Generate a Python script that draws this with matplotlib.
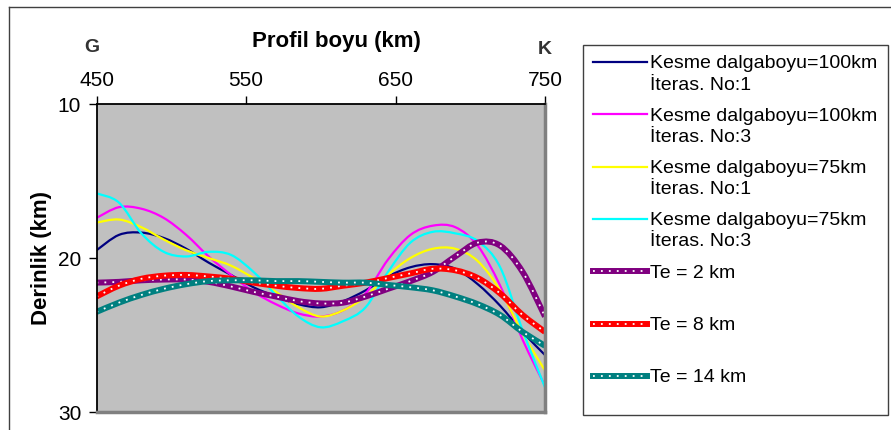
import matplotlib
matplotlib.use("Agg")
from matplotlib import pyplot as plt
from matplotlib.lines import Line2D
from matplotlib.path import Path
from matplotlib.patches import PathPatch

plt.rcParams['font.family'] = ['Liberation Sans', 'DejaVu Sans']

# profile distance (km) and depth (km)
profil = [450, 465, 480, 495, 510, 525, 540, 555, 570, 585, 600,
          615, 630, 645, 660, 675, 690, 705, 720, 735, 750]

kd100_it1 = [19.5, 18.5, 18.35, 18.7, 19.4, 20.3, 21.1, 21.9, 22.5, 23.0, 23.2,
             22.8, 22.1, 21.2, 20.6, 20.4, 20.7, 21.7, 23.1, 24.8, 26.3]
kd100_it3 = [17.4, 16.7, 16.8, 17.4, 18.5, 19.9, 21.1, 22.2, 23.0, 23.6, 23.8,
             23.4, 22.3, 20.1, 18.5, 17.9, 18.0, 19.2, 21.8, 25.3, 28.3]
kd75_it1 = [17.7, 17.5, 18.0, 18.8, 19.5, 20.0, 20.5, 21.3, 22.2, 23.2, 23.8,
            23.4, 22.5, 21.1, 20.0, 19.4, 19.4, 20.2, 22.1, 24.9, 27.3]
kd75_it3 = [15.8, 16.4, 18.4, 19.6, 19.9, 19.6, 19.8, 20.9, 22.4, 23.8, 24.5,
            24.1, 23.2, 20.9, 19.0, 18.3, 18.4, 18.9, 20.6, 24.7, 28.4]
te2 = [21.6, 21.55, 21.45, 21.4, 21.4, 21.55, 21.85, 22.2, 22.5, 22.8, 22.95,
       22.9, 22.5, 22.0, 21.5, 20.9, 19.9, 19.0, 19.2, 20.9, 23.8]
te8 = [22.5, 21.8, 21.35, 21.15, 21.1, 21.2, 21.35, 21.6, 21.8, 21.95, 22.0,
       21.8, 21.6, 21.3, 21.0, 20.7, 20.8, 21.3, 22.3, 23.7, 24.8]
te14 = [23.5, 22.9, 22.4, 22.0, 21.7, 21.5, 21.45, 21.45, 21.5, 21.5, 21.55,
        21.6, 21.6, 21.75, 21.9, 22.1, 22.5, 23.0, 23.7, 24.8, 25.7]

labels = ["Kesme dalgaboyu=100km\nİteras. No:1",
          "Kesme dalgaboyu=100km\nİteras. No:3",
          "Kesme dalgaboyu=75km\nİteras. No:1",
          "Kesme dalgaboyu=75km\nİteras. No:3",
          "Te = 2 km", "Te = 8 km", "Te = 14 km"]
xticks = [450, 550, 650, 750]
yticks = [10, 20, 30]

W, H = 891, 430
fig = plt.figure(figsize=(W / 100, H / 100), dpi=100)


def fx(px):
    return px / W


def fy(py):
    return 1 - py / H


def smooth_path(xs, ys):
    # Excel-style smoothed line: a Bezier segment between each pair of points
    pts = list(zip(xs, ys))
    n = len(pts)
    verts = [pts[0]]
    codes = [Path.MOVETO]
    for i in range(n - 1):
        p0 = pts[i - 1] if i > 0 else pts[i]
        p1 = pts[i]
        p2 = pts[i + 1]
        p3 = pts[i + 2] if i + 2 < n else pts[i + 1]
        c1 = (p1[0] + (p2[0] - p0[0]) / 6, p1[1] + (p2[1] - p0[1]) / 6)
        c2 = (p2[0] - (p3[0] - p1[0]) / 6, p2[1] - (p3[1] - p1[1]) / 6)
        verts += [c1, c2, p2]
        codes += [Path.CURVE4] * 3
    return Path(verts, codes)


ax = fig.add_axes([fx(96.5), fy(412), (545 - 96.5) / W, (412 - 104) / H])
ax.set_facecolor('#c0c0c0')

thin = [(kd100_it1, '#000080'), (kd100_it3, '#ff00ff'),
        (kd75_it1, '#ffff00'), (kd75_it3, '#00ffff')]
thick = [(te2, '#800080'), (te8, '#ff0000'), (te14, '#008080')]
TE_LW = 4.3

for ys, c in thin:
    ax.add_patch(PathPatch(smooth_path(profil, ys), fill=False, edgecolor=c,
                           lw=1.6, capstyle='butt'))
for ys, c in thick:
    pth = smooth_path(profil, ys)
    ax.add_patch(PathPatch(pth, fill=False, edgecolor=c, lw=TE_LW,
                           capstyle='butt'))
    ax.add_patch(PathPatch(pth, fill=False, edgecolor='white', lw=1.3,
                           linestyle=(0, (1, 3.4)), capstyle='butt'))

ax.set_xlim(450, 750)
ax.set_ylim(30, 10)
ax.xaxis.tick_top()
ax.set_xticks(xticks)
ax.set_yticks(yticks)
ax.tick_params(axis='both', labelsize=15, length=6, width=1, color='black')
ax.tick_params(axis='x', pad=4)
ax.tick_params(axis='y', pad=5)

for s in ['left', 'top']:
    ax.spines[s].set_color('black')
    ax.spines[s].set_linewidth(1.3)
for s in ['right', 'bottom']:
    ax.spines[s].set_color('#808080')
    ax.spines[s].set_linewidth(2.5)

fig.text(fx(336), fy(42), "Profil boyu (km)", ha='center', va='center',
         fontsize=16, fontweight='bold')
fig.text(fx(42), fy(258), "Derinlik (km)", ha='center', va='center',
         fontsize=16, fontweight='bold', rotation=90)
fig.text(fx(92), fy(47), "G", ha='center', va='center', fontsize=14,
         fontweight='bold', color='#333333')
fig.text(fx(545), fy(50), "K", ha='center', va='center', fontsize=14,
         fontweight='bold', color='#333333')

# outer chart frame (only left and top are inside the picture)
fig.add_artist(Line2D([fx(9), fx(9)], [fy(7), 0], transform=fig.transFigure,
                      color='#404040', lw=1))
fig.add_artist(Line2D([fx(9), 1], [fy(7), fy(7)], transform=fig.transFigure,
                      color='#404040', lw=1))

# legend box drawn by hand so the handle sits on the first text line
fig.add_artist(plt.Rectangle((fx(583), fy(415)), (888 - 583) / W, (415 - 45) / H,
                             transform=fig.transFigure, fill=False,
                             edgecolor='#404040', lw=1))
styles = thin + thick
for i, (lab, (ys, c)) in enumerate(zip(labels, styles)):
    yy = 62 + i * 52.3
    if i < 4:
        fig.add_artist(Line2D([fx(593), fx(647)], [fy(yy), fy(yy)],
                              transform=fig.transFigure, color=c, lw=1.6))
    else:
        fig.add_artist(Line2D([fx(593), fx(647)], [fy(yy), fy(yy)],
                              transform=fig.transFigure, color=c, lw=TE_LW))
        fig.add_artist(Line2D([fx(593), fx(647)], [fy(yy), fy(yy)],
                              transform=fig.transFigure, color='white',
                              lw=1.3, dashes=(1, 3.4)))
    for j, line in enumerate(lab.split("\n")):
        fig.text(fx(650), fy(yy + j * 21), line, ha='left',
                 va='center_baseline', fontsize=14)

fig.savefig("out.png", dpi=100)
